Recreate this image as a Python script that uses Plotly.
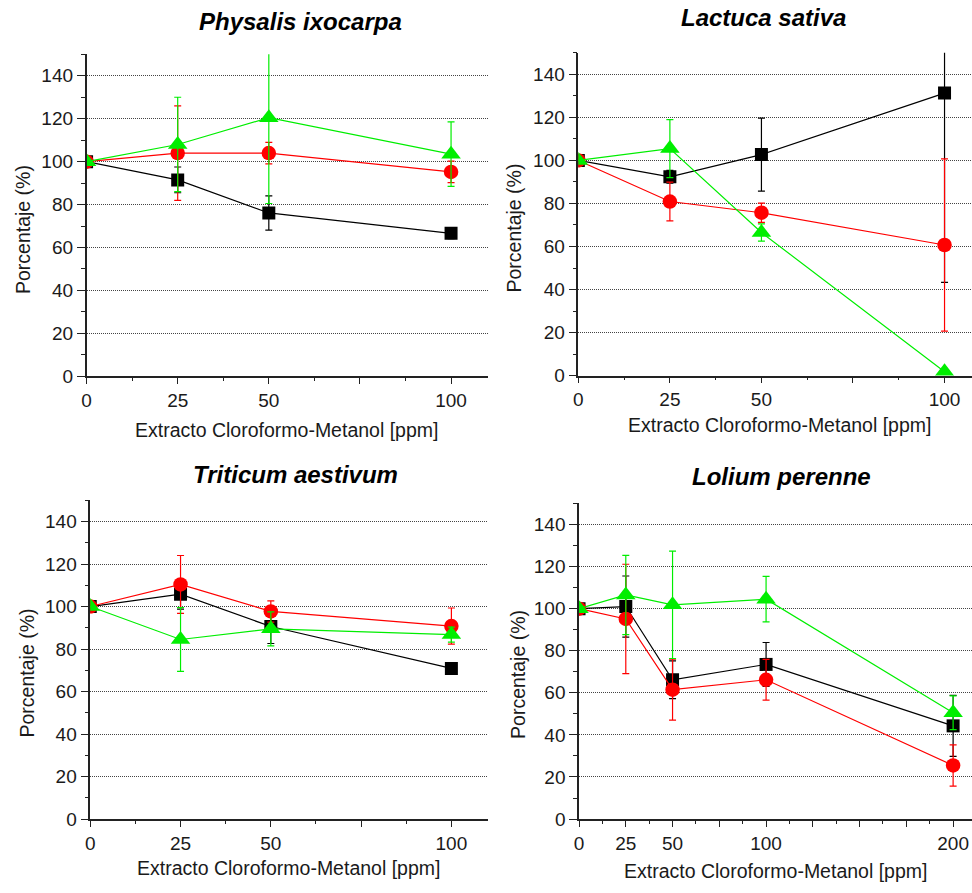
import plotly.graph_objects as go

# ---------------- data ----------------
conc = [0, 25, 50, 100]
conc_lolium = [0, 25, 50, 100, 200]

physalis_black = [100, 91.5, 76.1, 66.6]
physalis_black_err = [0, 6, 8, 2.5]
physalis_red = [100, 104, 104, 95.2]
physalis_red_err = [0, 22, 5, 5]
physalis_green = [100, 108, 120.5, 103.5]
physalis_green_err = [0, 22, 40, 15]

lactuca_black = [100, 92.4, 102.7, 131.3]
lactuca_black_err = [0, 3, 17, 88]
lactuca_red = [100, 80.9, 75.7, 60.7]
lactuca_red_err = [0, 9, 4.5, 40]
lactuca_green = [100, 105.5, 66.5, 1.8]
lactuca_green_err = [0, 13.5, 4, 0]

triticum_black = [100, 105.8, 90.6, 70.9]
triticum_black_err = [0, 7, 8, 2]
triticum_red = [100, 110.4, 97.7, 90.8]
triticum_red_err = [0, 13.6, 5, 8.5]
triticum_green = [100, 84.5, 89.5, 86.8]
triticum_green_err = [0, 15, 8, 3.5]

lolium_black = [100, 101, 66.2, 73.5, 44.3]
lolium_black_err = [0, 14.5, 9, 10.4, 14.5]
lolium_red = [100, 95.1, 61.5, 66.2, 25.5]
lolium_red_err = [0, 26, 14.5, 9.7, 9.8]
lolium_green = [100, 106.5, 101.8, 104.5, 50.5]
lolium_green_err = [0, 18.8, 25.5, 10.8, 8]

titles = ["Physalis ixocarpa", "Lactuca sativa", "Triticum aestivum", "Lolium perenne"]
x_title = "Extracto Cloroformo-Metanol [ppm]"
y_title = "Porcentaje (%)"
xtick_vals = [0, 25, 50, 75, 100]
xtick_text = ["0", "25", "50", "", "100"]
xtick_vals_lolium = [0, 25, 50, 75, 100, 125, 150, 175, 200]
xtick_text_lolium = ["0", "25", "50", "", "100", "", "", "", "200"]
ytick_vals = [0, 20, 40, 60, 80, 100, 120, 140]

# ---------------- figure ----------------
W, H = 972, 893
FONT = "Liberation Sans, Arial, sans-serif"
FS = 19.5   # axis titles
TFS = 19    # tick labels

fig = go.Figure()

panels = [
    (conc, [(physalis_black, physalis_black_err), (physalis_red, physalis_red_err), (physalis_green, physalis_green_err)]),
    (conc, [(lactuca_black, lactuca_black_err), (lactuca_red, lactuca_red_err), (lactuca_green, lactuca_green_err)]),
    (conc, [(triticum_black, triticum_black_err), (triticum_red, triticum_red_err), (triticum_green, triticum_green_err)]),
    (conc_lolium, [(lolium_black, lolium_black_err), (lolium_red, lolium_red_err), (lolium_green, lolium_green_err)]),
]
styles = [
    dict(color="#000000", symbol="square", size=13),
    dict(color="#FF0000", symbol="circle", size=14.5),
    dict(color="#00EE00", symbol="triangle-up", size=17),
]

for i, (xs, series) in enumerate(panels):
    ax = "" if i == 0 else str(i + 1)
    for (ys, errs), st in zip(series, styles):
        fig.add_trace(go.Scatter(
            x=xs, y=ys, mode="lines+markers",
            xaxis="x" + ax, yaxis="y" + ax,
            line=dict(color=st["color"], width=1.2),
            marker=dict(color=st["color"], symbol=st["symbol"], size=st["size"]),
            error_y=dict(type="data", array=errs, visible=True, color=st["color"],
                         thickness=1.2, width=3.5),
            showlegend=False,
        ))

# panel geometry in pixels: (x_left, x_right, y_bottom(value 0), y_top(value 150), xrange_max)
geom = [
    (82, 485, 381, 55, 110),
    (576.3, 972, 380.3, 53.5, 107.5),
    (85.7, 485, 829.3, 506.5, 110),
    (577, 972, 829.3, 509.7, 210.1),
]

layout = dict(
    width=W, height=H,
    margin=dict(l=0, r=0, t=0, b=0),
    paper_bgcolor="white", plot_bgcolor="white",
    font=dict(family=FONT, size=FS, color="#1a1a1a"),
)

for i, (xl, xr, yb, yt, xmax) in enumerate(geom):
    ax = "" if i == 0 else str(i + 1)
    lolium = i == 3
    layout["xaxis" + ax] = dict(
        domain=[xl / W, min(xr / W, 1.0)],
        anchor="y" + ax,
        range=[0, xmax],
        tickmode="array",
        tickvals=xtick_vals_lolium if lolium else xtick_vals,
        ticktext=xtick_text_lolium if lolium else xtick_text,
        ticks="outside", ticklen=6, tickwidth=1.2, tickcolor="#222",
        ticklabelstandoff=0,
        minor=dict(dtick=12.5, tick0=0, ticks="outside", ticklen=3, tickwidth=1, tickcolor="#222"),
        showline=True, linecolor="#222", linewidth=1.5,
        showgrid=False, zeroline=False,
        tickfont=dict(size=TFS, family=FONT, color="#1a1a1a"),
    )
    layout["yaxis" + ax] = dict(
        domain=[1 - yb / H, 1 - yt / H],
        anchor="x" + ax,
        range=[0, 150],
        tickmode="array", tickvals=ytick_vals,
        ticks="outside", ticklen=8, tickwidth=1.2, tickcolor="#222",
        minor=dict(dtick=10, tick0=0, ticks="outside", ticklen=4, tickwidth=1, tickcolor="#222"),
        showline=True, linecolor="#222", linewidth=1.5,
        showgrid=True, gridcolor="#444", griddash="1px,1px", gridwidth=1,
        zeroline=False,
        tickfont=dict(size=TFS, family=FONT, color="#1a1a1a"),
    )

fig.update_layout(**layout)

# titles and axis titles (pixel positions)
title_pos = [(297, 22), (762, 18), (292, 480), (781, 482)]
xtitle_pos = [(283, 435), (779, 430), (285, 879), (774, 882)]
ytitle_pos = [(18, 232), (512, 231), (22, 681), (515, 683)]

for t, (tx, ty) in zip(titles, title_pos):
    fig.add_annotation(text="<b><i>" + t + "</i></b>", x=tx / W, y=1 - ty / H,
                       xref="paper", yref="paper", showarrow=False,
                       xanchor="center", yanchor="middle",
                       font=dict(size=24, family=FONT, color="#000"))
for (tx, ty) in xtitle_pos:
    fig.add_annotation(text=x_title, x=tx / W, y=1 - ty / H,
                       xref="paper", yref="paper", showarrow=False,
                       xanchor="center", yanchor="middle",
                       font=dict(size=FS, family=FONT, color="#1a1a1a"))
for (tx, ty) in ytitle_pos:
    fig.add_annotation(text=y_title, x=tx / W, y=1 - ty / H, textangle=-90,
                       xref="paper", yref="paper", showarrow=False,
                       xanchor="center", yanchor="middle",
                       font=dict(size=FS, family=FONT, color="#1a1a1a"))

fig.write_html("out.html", config={"displayModeBar": False},
               post_script="document.body.style.margin='0';document.body.style.overflow='hidden';")
